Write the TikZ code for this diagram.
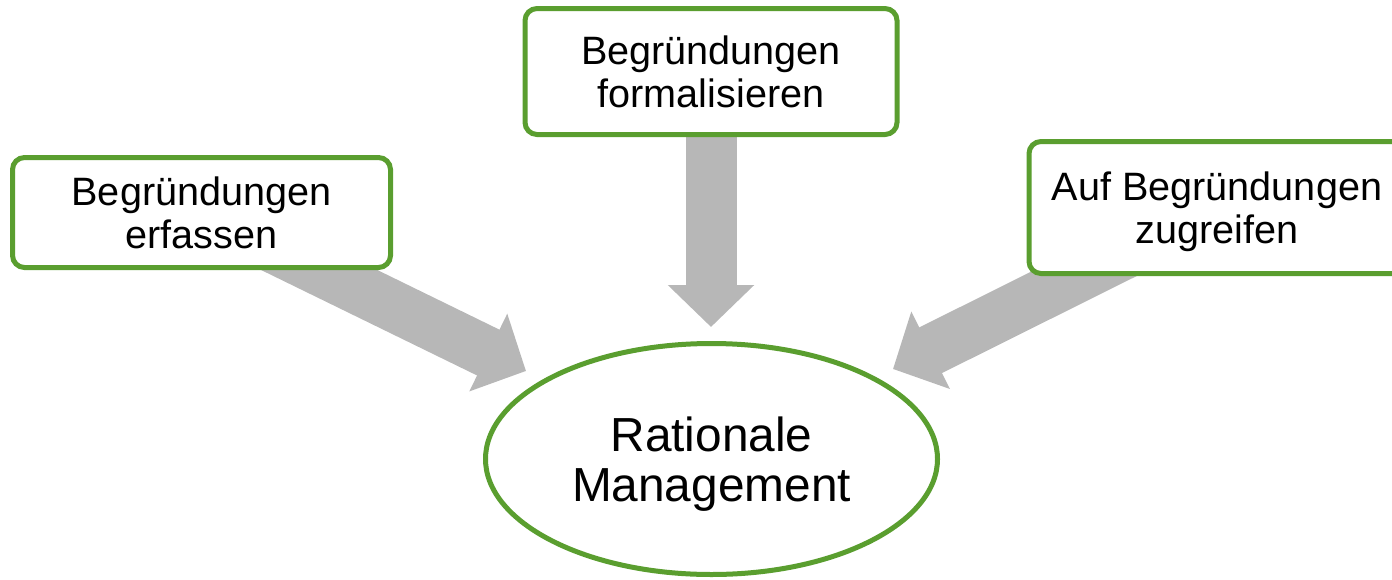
\documentclass[tikz,border=0pt]{standalone}
\usepackage{fontspec}
\setmainfont{Liberation Sans}
\usetikzlibrary{shapes.geometric,arrows.meta,backgrounds}
\definecolor{boxgreen}{HTML}{5A9E2F}
\definecolor{arrowgray}{HTML}{B7B7B7}
\newcommand\toprule{\rule{0pt}{37pt}}
\newcommand\botrule{\rule[-9pt]{0pt}{9pt}}
\newcommand\etoprule{\rule{0pt}{44.5pt}}
\newcommand\ebotrule{\rule[-10.5pt]{0pt}{10.5pt}}
\begin{document}
\begin{tikzpicture}[x=1pt,y=-1pt,
  stepbox/.style={draw=boxgreen, line width=5pt, rounded corners=12pt, fill=white,
    inner sep=0pt, align=center, font=\fontsize{39.6pt}{43pt}\selectfont},
  goal/.style={draw=boxgreen, line width=5pt, ellipse, fill=white, inner sep=0pt,
    minimum width=452pt, minimum height=231pt, align=center,
    font=\fontsize{47.8pt}{50pt}\selectfont},
  flow/.style={draw=arrowgray, line width=51pt, -{Triangle[length=42pt,width=84pt]}}]
\useasboundingbox (0,0) rectangle (1392,579);
\node[stepbox, minimum width=378pt, minimum height=110pt] (b1) at (201.5,212.5)
  {\toprule Begründungen\\erfassen\botrule};
\node[stepbox, minimum width=372pt, minimum height=126pt] (b2) at (711,71.5)
  {\toprule Begründungen\\formalisieren\botrule};
\node[stepbox, minimum width=376pt, minimum height=132pt] (b3) at (1217,207.5)
  {\toprule Auf Begründungen\\zugreifen\botrule};
\node[goal] (rm) at (711.5,459) {\etoprule Rationale\\Management\ebotrule};
\coordinate (t1) at (526,371);
\coordinate (t2) at (711,327);
\coordinate (t3) at (893,369);
\begin{scope}[on background layer]
  \draw[flow] (b1.center) -- (t1);
  \draw[flow] (b2.center) -- (t2);
  \draw[flow] (b3.center) -- (t3);
\end{scope}
\end{tikzpicture}
\end{document}
